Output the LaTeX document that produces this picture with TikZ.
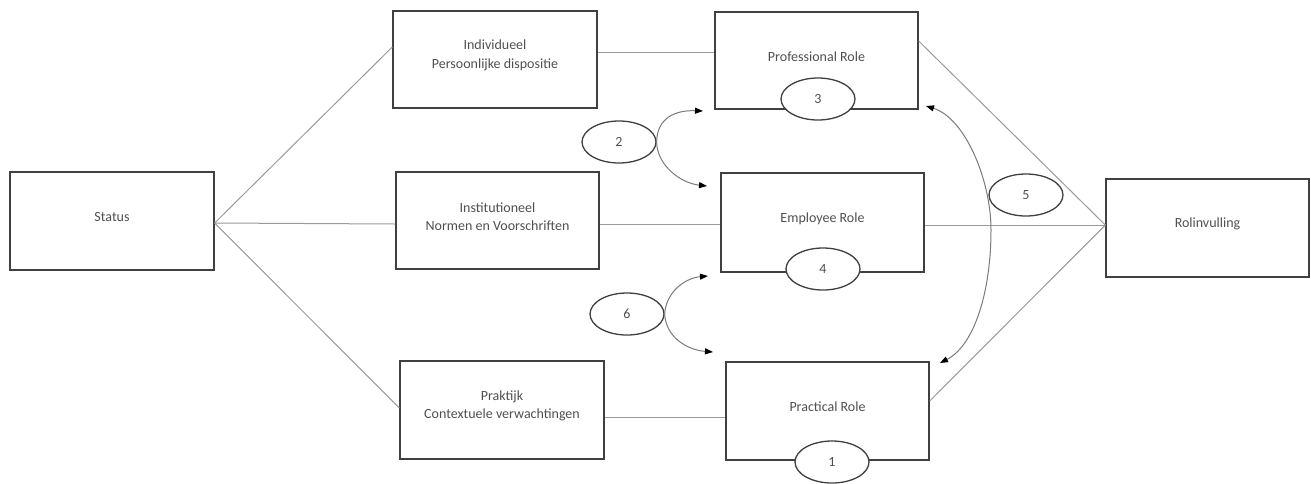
\documentclass[tikz,border=0pt]{standalone}
\usepackage{fontspec}
\setmainfont{Carlito}
\usetikzlibrary{arrows.meta,shapes.geometric}
\definecolor{boxline}{HTML}{404040}
\definecolor{linkline}{HTML}{9A9A9A}
\definecolor{txt}{HTML}{505050}
\begin{document}
\begin{tikzpicture}[x=1pt,y=-1pt,
  box/.style={draw=boxline, line width=1.4pt, rectangle, fill=white,
              minimum width=203pt, minimum height=98pt, inner sep=0pt},
  lbl/.style={font=\fontsize{14}{18.5}\selectfont, text=txt, align=center, yshift=4pt},
  num/.style={ellipse, draw=boxline, line width=1.3pt, fill=white,
              minimum width=74pt, minimum height=42pt, inner sep=0pt,
              font=\fontsize{14}{16}\selectfont, text=txt},
  link/.style={draw=linkline, line width=1pt},
  curv/.style={draw=linkline!80!black, line width=1pt,
               -{Triangle[length=8pt,width=6pt,color=black]}},
  twoway/.style={draw=linkline!80!black, line width=1pt,
               {Triangle[length=8pt,width=6pt,color=black]}-{Triangle[length=8pt,width=6pt,color=black]}}
]
\useasboundingbox (0,0) rectangle (1311,483);

% boxes
\node[box, minimum width=204pt, label={[lbl]center:Status}] (status) at (112,221) {};
\node[box, minimum width=204pt, minimum height=97pt,
      label={[lbl]center:Individueel\\Persoonlijke dispositie}] (indiv) at (495,59.5) {};
\node[box, minimum height=97pt,
      label={[lbl]center:Institutioneel\\Normen en Voorschriften}] (inst) at (497.5,220.5) {};
\node[box, minimum width=204pt,
      label={[lbl]center:Praktijk\\Contextuele verwachtingen}] (prakt) at (502,410) {};
\node[box, minimum height=97pt, label={[lbl]center:Professional Role}] (prof) at (816.5,60.5) {};
\node[box, minimum height=99pt, label={[lbl]center:Employee Role}] (emp) at (822.5,222.5) {};
\node[box, label={[lbl]center:Practical Role}] (pract) at (827.5,411) {};
\node[box, label={[lbl]center:Rolinvulling}] (rol) at (1207.5,228) {};

% meeting points of the fan-out and fan-in lines
\coordinate (statusout) at ([yshift=-2pt]status.east);
\coordinate (rolin) at ([yshift=3pt]rol.west);

% status to the three sources
\draw[link] (statusout) -- ([yshift=12.5pt]indiv.west);
\draw[link] (statusout) -- ([yshift=-3.5pt]inst.west);
\draw[link] (statusout) -- ([yshift=2pt]prakt.west);

% sources to roles
\draw[link] ([yshift=7.5pt]indiv.east) -- ([yshift=7.5pt]indiv.east -| prof.west);
\draw[link] ([yshift=-3.5pt]inst.east) -- ([yshift=-3.5pt]inst.east -| emp.west);
\draw[link] ([yshift=-7pt]prakt.east) -- ([yshift=-7pt]prakt.east -| pract.west);

% roles to Rolinvulling
\draw[link] ([yshift=19.5pt]prof.east) -- (rolin);
\draw[link] (rolin -| emp.east) -- (rolin);
\draw[link] ([yshift=10pt]pract.east) -- (rolin);

% numbered markers
\node[num] (n3) at (818,99) {3};
\node[num] (n4) at (823,269) {4};
\node[num] (n1) at (832,462) {1};
\node[num] (n2) at (619,142) {2};
\node[num] (n6) at (627,314) {6};
\node[num] (n5) at (1026,195) {5};

% arrow targets beside the role boxes
\coordinate (profin)  at (703,111);
\coordinate (empin)   at (707,186);
\coordinate (empin2)  at (708,276);
\coordinate (practin) at (713,352);
\coordinate (proftip) at (926,106);
\coordinate (practtip) at (940,363);

% marker 2 and 6 influence arrows
\draw[curv] (n2.east) .. controls (657,118) and (675,110) .. (profin);
\draw[curv] (n2.east) .. controls (657,165) and (680,183) .. (empin);
\draw[curv] (n6.east) .. controls (666,292) and (685,278) .. (empin2);
\draw[curv] (n6.east) .. controls (666,338) and (688,350) .. (practin);

% two-way arc between professional and practical role
\draw[twoway] (proftip) .. controls (965,118) and (991,180) .. (991,230)
              .. controls (991,290) and (975,345) .. (practtip);
\end{tikzpicture}
\end{document}
